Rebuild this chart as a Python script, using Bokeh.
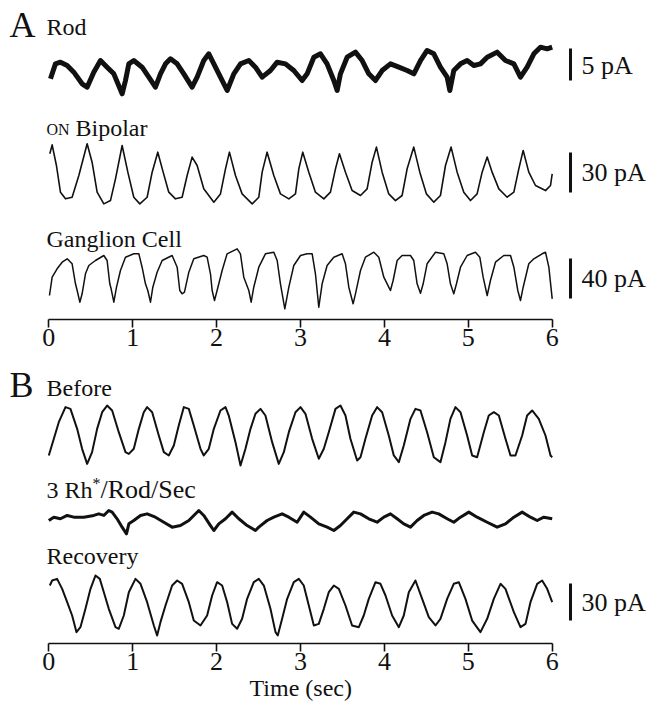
from bokeh.plotting import figure
from bokeh.models import Range1d, FixedTicker, Title
from bokeh.layouts import column
from bokeh.embed import file_html
from bokeh.resources import INLINE
from bokeh.core.properties import value

# ---------------- data (time in s, current in pA) ----------------
rod_t = [0.020, 0.079, 0.139, 0.219, 0.298, 0.397, 0.457, 0.536, 0.616, 0.695, 0.775, 0.874, 0.914, 0.954,
         1.013, 1.112, 1.192, 1.271, 1.331, 1.391, 1.450, 1.530, 1.609, 1.708, 1.768, 1.847, 1.907, 1.967,
         2.046, 2.126, 2.205, 2.285, 2.384, 2.463, 2.543, 2.642, 2.722, 2.821, 2.920, 3.019, 3.079, 3.159,
         3.238, 3.317, 3.397, 3.437, 3.476, 3.556, 3.655, 3.735, 3.814, 3.894, 3.973, 4.072, 4.172, 4.271,
         4.351, 4.430, 4.509, 4.589, 4.668, 4.748, 4.780, 4.827, 4.907, 4.986, 5.066, 5.145, 5.225, 5.344,
         5.443, 5.543, 5.622, 5.701, 5.781, 5.860, 5.940, 6.000]
rod_pA = [-0.52, 1.82, 2.08, 1.56, 0.52, -1.30, -1.82, 0.52, 2.34, 1.30, 0.26, -2.86, -0.78, 1.82,
          2.34, 1.30, -0.26, -1.82, 0.26, 1.82, 2.60, 1.82, 0.26, -1.82, -0.26, 2.34, 3.39, 1.82,
          -0.26, -2.34, 0.26, 1.82, 2.34, 1.30, -0.26, 0.78, 2.08, 1.82, 0.78, -0.78, 0.26, 2.86,
          3.39, 1.82, -0.78, -2.34, 0.26, 2.86, 3.65, 2.34, 0.26, -0.78, 0.78, 1.82, 1.30, 0.78,
          0.26, 2.34, 3.91, 3.39, 1.30, -0.26, -2.34, 0.78, 1.82, 2.34, 1.56, 1.82, 2.86, 3.65,
          2.34, 1.82, -0.26, 1.30, 3.39, 4.43, 4.17, 4.43]

bip_t = [0.012, 0.040, 0.091, 0.139, 0.199, 0.278, 0.358, 0.457, 0.516, 0.576, 0.656, 0.735, 0.795, 0.874,
         0.942, 1.013, 1.085, 1.172, 1.232, 1.299, 1.363, 1.430, 1.510, 1.589, 1.649, 1.708, 1.768, 1.847,
         1.967, 2.046, 2.106, 2.153, 2.225, 2.304, 2.424, 2.503, 2.543, 2.602, 2.682, 2.761, 2.861, 2.940,
         2.980, 3.027, 3.099, 3.178, 3.278, 3.357, 3.417, 3.464, 3.536, 3.615, 3.715, 3.794, 3.854, 3.905,
         3.973, 4.052, 4.132, 4.211, 4.271, 4.350, 4.422, 4.501, 4.589, 4.668, 4.728, 4.795, 4.867, 4.946,
         5.026, 5.105, 5.165, 5.225, 5.284, 5.364, 5.463, 5.543, 5.602, 5.654, 5.721, 5.801, 5.920, 5.980,
         6.000]
bip_pA = [16.3, 23.0, 7.5, -12.5, -17.5, -16.3, 0.0, 23.8, 10.0, -12.5, -21.3, -18.8, -2.5, 22.5,
          2.5, -16.3, -21.3, -16.3, 2.5, 17.5, 2.5, -12.5, -17.5, -16.3, 0.0, 13.8, 7.5, -10.0,
          -20.0, -13.8, 5.0, 17.5, 0.0, -13.8, -21.3, -16.3, 2.5, 17.5, 0.0, -13.8, -17.5, -13.8,
          5.0, 17.5, 2.5, -12.5, -17.5, -12.5, 5.0, 16.3, 2.5, -11.3, -15.0, -10.0, 10.0, 21.3,
          2.5, -13.8, -18.8, -15.0, 5.0, 21.3, 2.5, -13.8, -20.0, -15.0, 7.5, 21.3, 2.5, -12.5,
          -18.8, -13.8, 2.5, 13.8, 2.5, -10.0, -16.3, -12.5, 5.0, 18.8, 2.5, -7.5, -11.3, -7.5,
          1.3]

gang_t = [0.008, 0.040, 0.099, 0.159, 0.219, 0.278, 0.318, 0.338, 0.370, 0.397, 0.437, 0.477, 0.556, 0.656,
          0.695, 0.727, 0.743, 0.775, 0.807, 0.854, 0.914, 1.013, 1.073, 1.112, 1.152, 1.180, 1.212, 1.240,
          1.291, 1.351, 1.470, 1.530, 1.561, 1.589, 1.617, 1.669, 1.728, 1.847, 1.887, 1.927, 1.947, 1.975,
          2.006, 2.066, 2.125, 2.245, 2.284, 2.324, 2.384, 2.412, 2.443, 2.503, 2.582, 2.682, 2.722, 2.761,
          2.813, 2.861, 2.920, 3.000, 3.079, 3.139, 3.178, 3.218, 3.258, 3.317, 3.397, 3.496, 3.536, 3.576,
          3.627, 3.655, 3.715, 3.774, 3.874, 3.933, 3.993, 4.052, 4.072, 4.104, 4.152, 4.211, 4.311, 4.350,
          4.390, 4.430, 4.462, 4.509, 4.609, 4.708, 4.748, 4.787, 4.827, 4.859, 4.907, 4.986, 5.085, 5.137,
          5.177, 5.225, 5.264, 5.324, 5.423, 5.503, 5.543, 5.590, 5.622, 5.654, 5.721, 5.781, 5.880, 5.920,
          5.960, 6.000]
gang_pA = [-15.0, 3.3, 11.7, 18.3, 21.7, 16.7, -3.3, -10.0, -21.7, -13.3, 6.7, 15.0, 20.0, 25.0,
           20.0, -3.3, -8.3, -21.7, -6.7, 10.0, 23.3, 26.7, 26.7, 13.3, -3.3, -10.0, -21.7, -6.7,
           8.3, 20.0, 25.0, 13.3, -10.0, -13.3, -11.7, 8.3, 21.7, 25.0, 23.3, 6.7, -10.0, -20.0,
           -10.0, 10.0, 26.7, 31.7, 26.7, 3.3, -10.0, -21.7, -6.7, 13.3, 26.7, 28.3, 20.0, -3.3,
           -28.3, -6.7, 15.0, 25.0, 26.7, 26.7, 6.7, -26.7, -3.3, 15.0, 23.3, 26.7, 16.7, -6.7,
           -23.3, -13.3, 10.0, 23.3, 28.3, 23.3, 3.3, -6.7, -10.0, 0.0, 20.0, 25.0, 25.0, 20.0,
           -3.3, -12.7, -3.3, 16.7, 28.3, 26.7, 16.7, -3.3, -13.3, -3.3, 13.3, 25.0, 28.3, 23.3,
           3.3, -15.0, 0.0, 18.3, 25.0, 25.0, 13.3, -10.0, -20.0, -6.7, 16.7, 21.7, 26.7, 28.3,
           13.3, -18.3]

before_t = [0.000, 0.060, 0.119, 0.199, 0.258, 0.338, 0.397, 0.457, 0.516, 0.576, 0.636, 0.695, 0.755, 0.834,
            0.914, 0.954, 1.013, 1.073, 1.132, 1.172, 1.232, 1.311, 1.371, 1.430, 1.490, 1.549, 1.609, 1.669,
            1.728, 1.808, 1.847, 1.907, 1.967, 2.046, 2.106, 2.145, 2.225, 2.285, 2.344, 2.404, 2.463, 2.523,
            2.582, 2.662, 2.741, 2.801, 2.861, 2.940, 3.000, 3.059, 3.139, 3.218, 3.278, 3.337, 3.417, 3.476,
            3.536, 3.595, 3.675, 3.715, 3.774, 3.854, 3.913, 3.973, 4.052, 4.112, 4.172, 4.231, 4.311, 4.370,
            4.430, 4.509, 4.589, 4.668, 4.728, 4.787, 4.847, 4.907, 4.986, 5.046, 5.105, 5.185, 5.244, 5.304,
            5.364, 5.443, 5.503, 5.562, 5.642, 5.701, 5.761, 5.840, 5.920, 5.980, 6.000]
before_pA = [-16.2, -2.7, 10.8, 23.0, 21.6, 5.4, -10.8, -23.0, -13.5, 5.4, 18.9, 24.3, 20.3, 2.7,
             -13.5, -14.9, -10.8, 5.4, 18.9, 23.0, 18.9, 0.0, -13.5, -16.2, -8.1, 8.1, 23.0, 21.6,
             8.1, -10.8, -16.2, -10.8, 5.4, 20.3, 23.0, 16.2, -5.4, -24.3, -10.8, 5.4, 17.6, 21.6,
             16.2, -5.4, -23.0, -13.5, 2.7, 18.9, 23.0, 17.6, -2.7, -18.9, -10.8, 2.7, 21.6, 24.3,
             16.2, -2.7, -20.3, -17.6, -2.7, 16.2, 23.0, 18.9, 0.0, -16.2, -21.6, -8.1, 13.5, 21.6,
             20.3, 2.7, -17.6, -21.6, -5.4, 13.5, 23.0, 18.9, 0.0, -16.2, -17.6, 2.7, 16.2, 18.9,
             16.2, -2.7, -16.2, -16.2, 0.0, 16.2, 20.3, 13.5, 0.0, -16.2, -17.6]

rh3_t = [0.000, 0.060, 0.139, 0.219, 0.298, 0.417, 0.536, 0.596, 0.656, 0.715, 0.755, 0.814, 0.874, 0.926,
         0.954, 1.013, 1.093, 1.172, 1.271, 1.371, 1.470, 1.569, 1.669, 1.788, 1.847, 1.927, 1.967, 2.026,
         2.106, 2.185, 2.265, 2.364, 2.463, 2.503, 2.602, 2.682, 2.781, 2.861, 2.960, 3.039, 3.119, 3.218,
         3.318, 3.397, 3.476, 3.556, 3.635, 3.715, 3.814, 3.913, 3.993, 4.072, 4.152, 4.231, 4.311, 4.390,
         4.470, 4.569, 4.648, 4.748, 4.827, 4.907, 5.006, 5.105, 5.225, 5.344, 5.443, 5.543, 5.642, 5.741,
         5.821, 5.900, 6.000]
rh3_pA = [0.0, 2.7, 1.4, 4.1, 2.7, 2.7, 4.1, 5.4, 4.1, 8.1, 6.8, 1.4, -5.4, -10.8,
          -2.7, 0.0, 4.1, 5.4, 2.7, -1.4, -5.4, -4.1, 0.0, 8.1, 4.1, -4.1, -8.1, -2.7,
          1.4, 6.8, 1.4, -4.1, -8.1, -5.4, 0.0, 2.7, 5.4, 2.7, -1.4, 6.8, 2.7, -2.7,
          -5.4, -8.1, -4.1, 1.4, 6.8, 5.4, 1.4, -1.4, 2.7, 5.4, 1.4, -2.7, -5.4, 0.0,
          4.1, 6.8, 5.4, 1.4, -1.4, 2.7, 6.8, 2.7, -1.4, -5.4, -2.7, 2.7, 6.8, 2.7,
          0.0, 2.7, 1.4]

rec_t = [0.012, 0.040, 0.099, 0.159, 0.219, 0.278, 0.330, 0.377, 0.437, 0.497, 0.556, 0.608, 0.656, 0.715,
         0.795, 0.834, 0.894, 0.954, 1.033, 1.093, 1.172, 1.252, 1.291, 1.331, 1.391, 1.470, 1.530, 1.589,
         1.669, 1.728, 1.808, 1.887, 1.947, 2.006, 2.066, 2.126, 2.185, 2.245, 2.304, 2.364, 2.443, 2.503,
         2.563, 2.642, 2.702, 2.729, 2.781, 2.841, 2.920, 2.980, 3.039, 3.099, 3.159, 3.218, 3.278, 3.337,
         3.397, 3.457, 3.536, 3.615, 3.695, 3.754, 3.814, 3.894, 3.953, 4.013, 4.092, 4.172, 4.231, 4.291,
         4.370, 4.450, 4.529, 4.609, 4.668, 4.748, 4.827, 4.887, 4.966, 5.046, 5.145, 5.225, 5.304, 5.384,
         5.443, 5.543, 5.622, 5.682, 5.741, 5.821, 5.880, 5.940, 6.000]
rec_pA = [16.2, 20.3, 21.6, 13.5, 2.7, -8.1, -21.6, -17.6, -2.7, 13.5, 24.3, 21.6, 10.8, -2.7,
          -17.6, -18.9, -8.1, 10.8, 21.6, 17.6, 2.7, -16.2, -24.3, -13.5, 0.0, 16.2, 20.3, 17.6,
          2.7, -12.2, -16.2, -8.1, 8.1, 18.9, 16.2, 2.7, -14.9, -18.9, -10.8, 5.4, 18.9, 21.6,
          16.2, -2.7, -21.6, -24.3, -10.8, 5.4, 18.9, 21.6, 16.2, 0.0, -16.2, -14.9, -2.7, 10.8,
          16.2, 13.5, 0.0, -16.2, -17.6, -8.1, 5.4, 18.9, 17.6, 8.1, -8.1, -17.6, -8.1, 10.8,
          20.3, 5.4, -9.5, -16.2, -10.8, 5.4, 17.6, 18.9, 5.4, -12.2, -21.6, -10.8, 5.4, 17.6,
          13.5, -5.4, -17.6, -14.9, 2.7, 17.6, 20.3, 13.5, 2.7]

time_ticks = [0, 1, 2, 3, 4, 5, 6]
scale_bar_pA = {"rod": 5, "bip": 30, "gang": 40, "rec": 30}

# ---------------- layout ----------------
W = 648
X0PX, PXS = 48.3, 83.9          # page pixel of t=0, pixels per second
FONT = "Liberation Serif"
INK = "#111111"
BAR_X = (570 - X0PX) / PXS


def tx(px):
    return (px - X0PX) / PXS


def make_fig(page_top, height, frame_bottom):
    p = figure(width=W, height=height,
               x_range=Range1d(-X0PX / PXS, (W - X0PX) / PXS),
               y_range=Range1d(frame_bottom, page_top),
               output_backend="svg", toolbar_location=None,
               y_axis_location=None,
               min_border_left=0, min_border_right=0, min_border_top=0,
               min_border_bottom=page_top + height - frame_bottom)
    p.outline_line_color = None
    p.grid.visible = False
    p.background_fill_color = "white"
    p.border_fill_color = "white"
    ax = p.xaxis[0]
    ax.ticker = FixedTicker(ticks=time_ticks)
    ax.bounds = (0, 6)
    ax.minor_tick_line_color = None
    ax.major_tick_in = 0
    ax.major_tick_out = 8
    ax.axis_line_width = 1.6
    ax.major_tick_line_width = 1.6
    ax.axis_line_color = INK
    ax.major_tick_line_color = INK
    ax.major_label_text_font = FONT
    ax.major_label_text_font_size = "26px"
    ax.major_label_text_color = INK
    ax.major_label_standoff = 1
    return p


def add_trace(p, name, page_top, frame_bottom, base_px, k, t, v, lw):
    p.extra_y_ranges[name] = Range1d((base_px - frame_bottom) / k, (base_px - page_top) / k)
    p.line(t, v, y_range_name=name, line_color=INK, line_width=lw, line_join="round")


def add_bar(p, name, y0, length):
    p.segment(x0=[BAR_X], y0=[y0], x1=[BAR_X], y1=[y0 + length], y_range_name=name,
              line_color=INK, line_width=3)


def add_text(p, x_px, y_mid, txt, size):
    p.text(x=[tx(x_px)], y=[y_mid], text=[txt], text_font=value(FONT), text_font_size=size,
           text_baseline="middle", text_align="left", text_color=INK)


# ---- panel A ----
A_TOP, A_H, A_FB = 0, 360, 319
pa = make_fig(A_TOP, A_H, A_FB)
add_trace(pa, "rod", A_TOP, A_FB, 75, 6.4, rod_t, rod_pA, 5)
add_trace(pa, "bip", A_TOP, A_FB, 175, 1.333, bip_t, bip_pA, 1.6)
add_trace(pa, "gang", A_TOP, A_FB, 280, 1.0, gang_t, gang_pA, 1.5)
add_bar(pa, "rod", -0.8, scale_bar_pA["rod"])
add_bar(pa, "bip", -12.75, scale_bar_pA["bip"])
add_bar(pa, "gang", -18, scale_bar_pA["gang"])
add_text(pa, 9, 24, "A", "36px")
add_text(pa, 46, 26, "Rod", "24px")
add_text(pa, 46, 129, "ON", "16px")
add_text(pa, 75, 127, "Bipolar", "24px")
add_text(pa, 46, 238, "Ganglion Cell", "24px")
add_text(pa, 581, 65, "%d pA" % scale_bar_pA["rod"], "26px")
add_text(pa, 581, 172, "%d pA" % scale_bar_pA["bip"], "26px")
add_text(pa, 581, 278, "%d pA" % scale_bar_pA["gang"], "26px")

# ---- panel B ----
B_TOP, B_H, B_FB = 360, 345, 643
pb = make_fig(B_TOP, B_H, B_FB)
pb.add_layout(Title(text="Time (sec)", align="left", offset=249, standoff=0,
                    text_font=FONT, text_font_size="24px", text_font_style="normal",
                    text_color=INK), "below")
add_trace(pb, "before", B_TOP, B_FB, 435, 1.233, before_t, before_pA, 2.0)
add_trace(pb, "rh3", B_TOP, B_FB, 520, 1.233, rh3_t, rh3_pA, 3.0)
add_trace(pb, "rec", B_TOP, B_FB, 605, 1.233, rec_t, rec_pA, 2.0)
add_bar(pb, "rec", -12.2, scale_bar_pA["rec"])
add_text(pb, 9, 384, "B", "36px")
add_text(pb, 46, 387, "Before", "24px")
add_text(pb, 46, 489, "3 Rh", "24px")
add_text(pb, 92, 483, "*", "16px")
add_text(pb, 100, 489, "/Rod/Sec", "26px")
add_text(pb, 46, 555, "Recovery", "24px")
add_text(pb, 581, 602, "%d pA" % scale_bar_pA["rec"], "26px")

layout = column(pa, pb, spacing=0)
open("out.html", "w").write(file_html(layout, INLINE))
